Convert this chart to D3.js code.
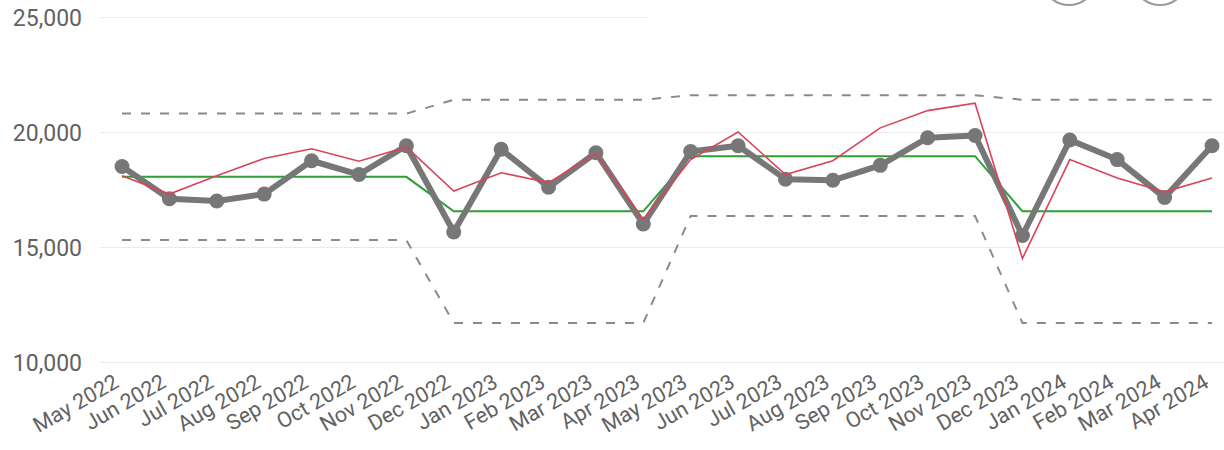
<!DOCTYPE html>
<html>
<head>
<meta charset="utf-8">
<script src="https://cdn.jsdelivr.net/npm/d3@7/dist/d3.min.js"></script>
<style>
  html, body { margin: 0; padding: 0; background: #fff; }
  svg { display: block; }
  text { font-family: Roboto, "Noto Sans", sans-serif; }
</style>
</head>
<body>
<svg id="chart" width="1224" height="450"></svg>
<script>
const months = ["May 2022","Jun 2022","Jul 2022","Aug 2022","Sep 2022","Oct 2022","Nov 2022","Dec 2022",
  "Jan 2023","Feb 2023","Mar 2023","Apr 2023","May 2023","Jun 2023","Jul 2023","Aug 2023","Sep 2023",
  "Oct 2023","Nov 2023","Dec 2023","Jan 2024","Feb 2024","Mar 2024","Apr 2024"];
const actual = [18500,17100,17000,17300,18750,18150,19400,15650,19250,17600,19100,16000,
  19150,19400,17950,17900,18550,19750,19850,15500,19650,18800,17150,19400];
const forecast = [18100,17300,18100,18850,19270,18730,19350,17430,18230,17800,19050,16200,
  18800,20000,18150,18750,20180,20930,21250,14500,18800,18000,17400,18000];
const meanLine = [18050,18050,18050,18050,18050,18050,18050,16550,16550,16550,16550,16550,
  18950,18950,18950,18950,18950,18950,18950,16550,16550,16550,16550,16550];
const upperLimit = [20800,20800,20800,20800,20800,20800,20800,21400,21400,21400,21400,21400,
  21600,21600,21600,21600,21600,21600,21600,21400,21400,21400,21400,21400];
const lowerLimit = [15300,15300,15300,15300,15300,15300,15300,11700,11700,11700,11700,11700,
  16350,16350,16350,16350,16350,16350,16350,11700,11700,11700,11700,11700];
const yTicks = [10000,15000,20000,25000];

const svg = d3.select("#chart");
const x = d3.scalePoint().domain(months).range([122, 1212]);
const y = d3.scaleLinear().domain([10000, 25000]).range([362, 17]);
const fmt = d3.format(",");

// gridlines
const yAxis = d3.axisLeft(y).tickValues(yTicks).tickSize(-1124).tickFormat(fmt).tickPadding(18);
const gy = svg.append("g").attr("transform", "translate(100,0)").call(yAxis);
gy.select(".domain").remove();
gy.selectAll(".tick line").attr("stroke", "#ebebeb").attr("stroke-width", 1.2);
gy.selectAll(".tick text").attr("fill", "#626262").attr("font-size", 23).attr("dy", "0.36em");

// header box covering top gridline
svg.append("rect").attr("x", 648).attr("y", 0).attr("width", 576).attr("height", 30).attr("fill", "#fff");
[1069, 1160].forEach(cx => {
  svg.append("circle").attr("cx", cx).attr("cy", -22).attr("r", 27)
    .attr("fill", "none").attr("stroke", "#9a9a9a").attr("stroke-width", 2.2);
});

// x axis labels
const xAxis = d3.axisBottom(x).tickSize(0).tickPadding(0);
const gx = svg.append("g").attr("transform", "translate(0,362)").call(xAxis);
gx.select(".domain").remove();
gx.selectAll(".tick text")
  .attr("fill", "#626262").attr("font-size", 21.5)
  .attr("text-anchor", "end")
  .attr("transform", "translate(-10,11) rotate(-30)")
  .attr("dy", "0.71em").attr("y", 0).attr("x", 0);

const line = arr => d3.line().x((d, i) => x(months[i])).y(d => y(d))(arr);

svg.append("path").attr("d", line(upperLimit)).attr("fill", "none")
  .attr("stroke", "#8a8a8a").attr("stroke-width", 2).attr("stroke-dasharray", "9,10");
svg.append("path").attr("d", line(lowerLimit)).attr("fill", "none")
  .attr("stroke", "#8a8a8a").attr("stroke-width", 2).attr("stroke-dasharray", "9,10");
svg.append("path").attr("d", line(meanLine)).attr("fill", "none")
  .attr("stroke", "#2e9e35").attr("stroke-width", 2);
svg.append("path").attr("d", line(actual)).attr("fill", "none")
  .attr("stroke", "#777").attr("stroke-width", 6).attr("stroke-linejoin", "round");
svg.append("g").selectAll("circle").data(actual).join("circle")
  .attr("cx", (d, i) => x(months[i])).attr("cy", d => y(d)).attr("r", 7.5).attr("fill", "#777");
svg.append("path").attr("d", line(forecast)).attr("fill", "none")
  .attr("stroke", "#d8455a").attr("stroke-width", 1.6);
</script>
</body>
</html>
